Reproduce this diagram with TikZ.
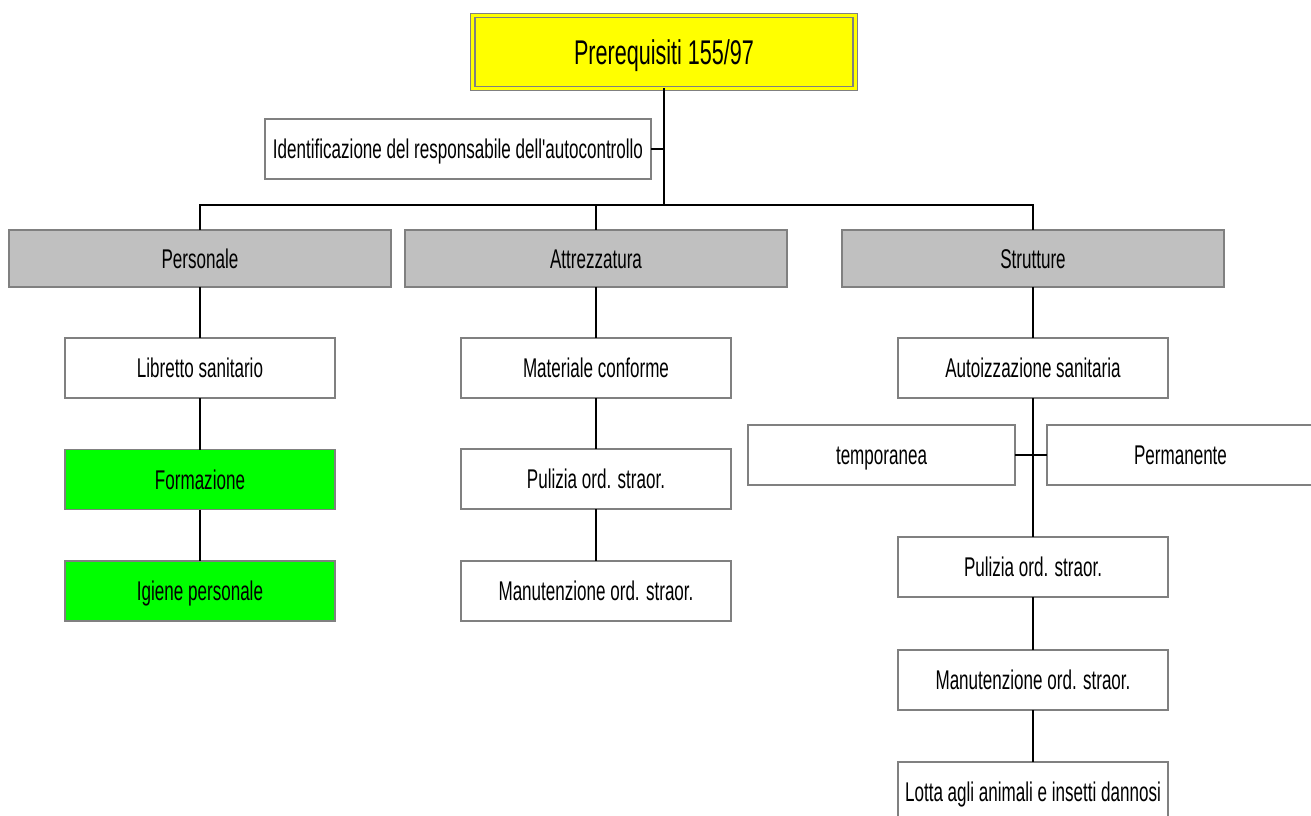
\documentclass[tikz,border=0pt]{standalone}
\usepackage{fontspec}
\newfontfamily\narrowfont{Liberation Sans}[FakeStretch=0.63]
\usetikzlibrary{positioning}
\definecolor{boxgrey}{HTML}{808080}
\definecolor{catgrey}{HTML}{C0C0C0}
\definecolor{leafgreen}{HTML}{00FF00}
\definecolor{headyellow}{HTML}{FFFF00}
\tikzset{
	box/.style={draw=boxgrey,line width=1.1pt,fill=white,rectangle,align=center,inner sep=0pt,outer sep=0pt,minimum width=5.4cm,minimum height=1.2cm,text height=11pt,text depth=0pt,font=\narrowfont\fontsize{15.4}{18}\selectfont},
	catbox/.style={box,fill=catgrey,minimum width=7.64cm,minimum height=1.14cm},
	greenbox/.style={box,fill=leafgreen},
	headbox/.style={box,fill=headyellow,line width=0.85pt,double=headyellow,double distance=1.5pt,minimum width=7.65cm,minimum height=1.46cm,text height=14pt,font=\narrowfont\fontsize{19.5}{22}\selectfont},
	link/.style={line width=0.75pt}
}

\begin{document}
\begin{tikzpicture}
			\useasboundingbox (0,0) rectangle (26.22,-16.32);
			\clip (0,0) rectangle (26.22,-16.32);
			
			\node[headbox] (head) at (13.28,-1.04) {Prerequisiti 155/97};
			\node[box,minimum width=7.72cm] (resp) at (9.16,-2.98) {Identificazione del responsabile dell'autocontrollo};
			\node[coordinate] (bus) at (13.28,-4.1) {}; % junction of the three branches
			
			\node[catbox] (pers) at (4,-5.17) {Personale};
			\node[catbox] (attr) at (11.92,-5.17) {Attrezzatura};
			\node[catbox] (strut) at (20.66,-5.17) {Strutture};
			
			\node[box] (libr) at (4,-7.36) {Libretto sanitario};
			\node[greenbox] (form) at (4,-9.59) {Formazione};
			\node[greenbox] (igie) at (4,-11.82) {Igiene personale};
			
			\node[box] (mater) at (11.92,-7.36) {Materiale conforme};
			\node[box] (pulA) at (11.92,-9.58) {Pulizia ord. straor.};
			\node[box] (manA) at (11.92,-11.82) {Manutenzione ord. straor.};
			
			\node[box] (auto) at (20.66,-7.36) {Autoizzazione sanitaria};
			\node[box,minimum width=5.34cm] (temp) at (17.63,-9.1) {temporanea};
			\node[box,minimum width=5.34cm] (perm) at (23.61,-9.1) {Permanente};
			\node[box] (pulS) at (20.66,-11.34) {Pulizia ord. straor.};
			\node[box] (manS) at (20.66,-13.6) {Manutenzione ord. straor.};
			\node[box] (lotta) at (20.66,-15.84) {Lotta agli animali e insetti dannosi};
			
			\draw[link] (head) -- (bus);
			\draw[link] (resp.east) -- (resp.east -| head.south);
			\draw[link] (pers.north) |- (bus) -| (strut.north);
			\draw[link] (attr.north) -- (attr.north |- bus);
			
			\draw[link] (pers) -- (libr);
			\draw[link] (libr) -- (form);
			\draw[link] (form) -- (igie);
			\draw[link] (attr) -- (mater);
			\draw[link] (mater) -- (pulA);
			\draw[link] (pulA) -- (manA);
			\draw[link] (strut) -- (auto);
			\draw[link] (auto) -- (pulS);
			\draw[link] (temp) -- (perm);
			\draw[link] (pulS) -- (manS);
			\draw[link] (manS) -- (lotta);
		\end{tikzpicture}
\end{document}
